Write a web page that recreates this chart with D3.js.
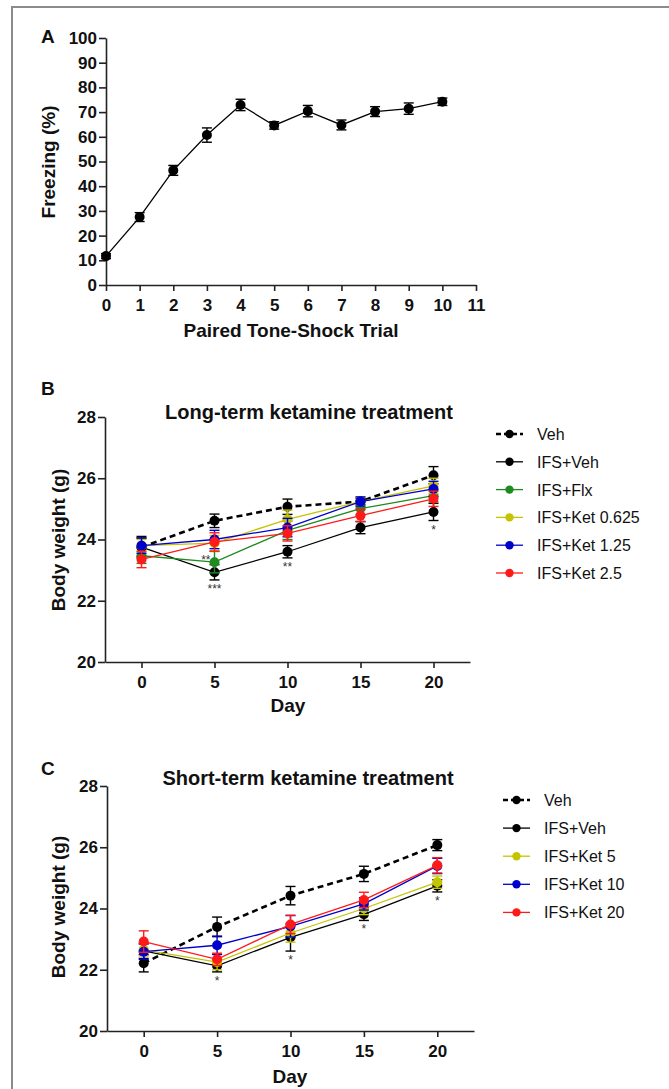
<!DOCTYPE html>
<html>
<head>
<meta charset="utf-8">
<title>Freezing and body weight</title>
<script src="https://d3js.org/d3.v7.min.js"></script>
<style>
  body { margin: 0; background: #fff; }
  svg { display: block; font-family: "Liberation Sans", Arial, sans-serif; }
  .axis path, .axis line { stroke: #222; stroke-width: 1.6; }
  .axis text { font-size: 17px; font-weight: bold; fill: #111; font-family: "Liberation Sans", Arial, sans-serif; }
  .axis-title { font-size: 19px; font-weight: bold; fill: #111; }
  .panel-title { font-size: 20px; font-weight: bold; fill: #111; }
  .panel-letter { font-size: 19px; font-weight: bold; fill: #111; }
  .legend text { font-size: 16px; fill: #111; }
  .star { font-size: 12px; fill: #333; }
</style>
</head>
<body>
<svg width="669" height="1089"></svg>

<script>

// panel A : freezing over trials
const trials = [0, 1, 2, 3, 4, 5, 6, 7, 8, 9, 10];
const trialTicks = [0, 1, 2, 3, 4, 5, 6, 7, 8, 9, 10, 11];
const freezing = [11.7, 27.5, 46.4, 60.7, 72.9, 64.6, 70.4, 64.8, 70.2, 71.4, 74.2];
const freezingSem = [1.0, 1.8, 2.0, 2.9, 2.3, 1.5, 2.3, 2.0, 2.0, 2.3, 1.5];
const freezingTicks = [0, 10, 20, 30, 40, 50, 60, 70, 80, 90, 100];

// panels B and C : body weight
const days = [0, 5, 10, 15, 20];
const weightTicks = [20, 22, 24, 26, 28];

const longGroups = ['Veh', 'IFS+Veh', 'IFS+Flx', 'IFS+Ket 0.625', 'IFS+Ket 1.25', 'IFS+Ket 2.5'];
const longColors = ['#000000', '#000000', '#1f8a1f', '#c4c400', '#0000cc', '#ff1a1a'];
const longVeh     = [23.75, 24.61, 25.07, 25.24, 26.10];
const longIfsVeh  = [23.75, 22.93, 23.60, 24.39, 24.90];
const longFlx     = [23.47, 23.26, 24.30, 25.01, 25.43];
const longKet0625 = [23.80, 23.88, 24.66, 25.24, 25.75];
const longKet125  = [23.80, 24.00, 24.39, 25.24, 25.65];
const longKet25   = [23.35, 23.92, 24.20, 24.78, 25.33];
const longVehSem     = [0.35, 0.22, 0.25, 0.10, 0.28];
const longIfsVehSem  = [0.30, 0.25, 0.20, 0.20, 0.28];
const longFlxSem     = [0.25, 0.35, 0.30, 0.20, 0.20];
const longKet0625Sem = [0.20, 0.25, 0.30, 0.15, 0.25];
const longKet125Sem  = [0.25, 0.30, 0.30, 0.15, 0.25];
const longKet25Sem   = [0.27, 0.30, 0.25, 0.20, 0.25];
const longStars = [
  {day: 5, label: '***', group: 1, side: 'below'},
  {day: 5, label: '**', group: 2, side: 'left'},
  {day: 10, label: '**', group: 1, side: 'below'},
  {day: 20, label: '*', group: 1, side: 'below'}
];

const shortGroups = ['Veh', 'IFS+Veh', 'IFS+Ket 5', 'IFS+Ket 10', 'IFS+Ket 20'];
const shortColors = ['#000000', '#000000', '#c4c400', '#0000cc', '#ff1a1a'];
const shortVeh    = [22.21, 23.40, 24.42, 25.13, 26.07];
const shortIfsVeh = [22.62, 22.13, 23.06, 23.81, 24.74];
const shortKet5   = [22.65, 22.25, 23.20, 24.00, 24.86];
const shortKet10  = [22.59, 22.80, 23.42, 24.15, 25.39];
const shortKet20  = [22.92, 22.34, 23.48, 24.28, 25.41];
const shortVehSem    = [0.28, 0.32, 0.30, 0.25, 0.18];
const shortIfsVehSem = [0.25, 0.20, 0.45, 0.20, 0.20];
const shortKet5Sem   = [0.20, 0.25, 0.30, 0.20, 0.20];
const shortKet10Sem  = [0.25, 0.30, 0.35, 0.20, 0.25];
const shortKet20Sem  = [0.35, 0.20, 0.30, 0.25, 0.25];
const shortStars = [
  {day: 5, label: '*', group: 1, side: 'below'},
  {day: 10, label: '*', group: 1, side: 'below'},
  {day: 15, label: '*', group: 1, side: 'below'},
  {day: 20, label: '*', group: 1, side: 'below'}
];

const toSeries = (names, colors, means, sems) =>
  names.map((name, i) => ({
    name,
    color: colors[i],
    dashed: name === 'Veh',
    points: means[i].map((m, j) => ({ i: j, mean: m, sem: sems[i][j] }))
  }));

// one panel : axes, lines, error bars, markers
const linePanel = (selection, props) => {
  const { x, y, xs, series, xTicks, yTicks, xTitle, yTitle, title, letter, stars } = props;
  const g = selection.append('g');

  const x0 = x.range()[0];
  const y0 = y.range()[0];

  g.append('g')
    .attr('class', 'axis')
    .attr('transform', `translate(0,${y0})`)
    .call(d3.axisBottom(x).tickValues(xTicks).tickSize(6).tickPadding(8).tickSizeOuter(0));

  g.append('g')
    .attr('class', 'axis')
    .attr('transform', `translate(${x0},0)`)
    .call(d3.axisLeft(y).tickValues(yTicks).tickSize(7).tickPadding(2).tickSizeOuter(0));

  g.append('text')
    .attr('class', 'axis-title')
    .attr('text-anchor', 'middle')
    .attr('x', xTitle.x).attr('y', xTitle.y)
    .text(xTitle.text);

  g.append('text')
    .attr('class', 'axis-title')
    .attr('text-anchor', 'middle')
    .attr('transform', `translate(${yTitle.x},${yTitle.y}) rotate(-90)`)
    .text(yTitle.text);

  if (title) {
    g.append('text')
      .attr('class', 'panel-title')
      .attr('text-anchor', 'middle')
      .attr('x', title.x).attr('y', title.y)
      .text(title.text);
  }

  g.append('text')
    .attr('class', 'panel-letter')
    .attr('x', 41).attr('y', letter.y)
    .text(letter.text);

  const line = d3.line()
    .x(d => x(xs[d.i]))
    .y(d => y(d.mean));

  const sg = g.selectAll('.series').data(series).join('g').attr('class', 'series');

  sg.append('path')
    .attr('d', d => line(d.points))
    .attr('fill', 'none')
    .attr('stroke', d => d.color)
    .attr('stroke-width', d => d.dashed ? 2.6 : 1.3)
    .attr('stroke-dasharray', d => d.dashed ? '6,4' : null);

  sg.each(function(s) {
    const eg = d3.select(this).selectAll('.err').data(s.points).join('g').attr('class', 'err')
      .attr('stroke', s.color).attr('stroke-width', 1.4);
    eg.append('line')
      .attr('x1', d => x(xs[d.i])).attr('x2', d => x(xs[d.i]))
      .attr('y1', d => y(d.mean - d.sem)).attr('y2', d => y(d.mean + d.sem));
    eg.append('line')
      .attr('x1', d => x(xs[d.i]) - 5).attr('x2', d => x(xs[d.i]) + 5)
      .attr('y1', d => y(d.mean + d.sem)).attr('y2', d => y(d.mean + d.sem));
    eg.append('line')
      .attr('x1', d => x(xs[d.i]) - 5).attr('x2', d => x(xs[d.i]) + 5)
      .attr('y1', d => y(d.mean - d.sem)).attr('y2', d => y(d.mean - d.sem));

    d3.select(this).selectAll('circle').data(s.points).join('circle')
      .attr('cx', d => x(xs[d.i]))
      .attr('cy', d => y(d.mean))
      .attr('r', 5)
      .attr('fill', s.color);
  });

  if (stars) {
    g.selectAll('.star').data(stars).join('text')
      .attr('class', 'star')
      .attr('text-anchor', d => d.side === 'left' ? 'end' : 'middle')
      .attr('x', d => {
        const px = x(d.day);
        return d.side === 'left' ? px - 4 : px;
      })
      .attr('y', d => {
        const p = series[d.group].points[xs.indexOf(d.day)];
        return d.side === 'left' ? y(p.mean) + 2 : y(p.mean - p.sem) + 13;
      })
      .text(d => d.label);
  }
};

const legend = (selection, props) => {
  const { series, x, y, step } = props;
  const lg = selection.append('g').attr('class', 'legend');
  const item = lg.selectAll('g').data(series).join('g')
    .attr('transform', (d, i) => `translate(${x},${y + i * step})`);
  item.append('line')
    .attr('x1', 0).attr('x2', 27)
    .attr('stroke', d => d.color)
    .attr('stroke-width', d => d.dashed ? 2.6 : 1.3)
    .attr('stroke-dasharray', d => d.dashed ? '5,3' : null);
  item.append('circle')
    .attr('cx', 13.5).attr('r', 4.2)
    .attr('fill', d => d.color);
  item.append('text')
    .attr('x', 41).attr('y', 6)
    .text(d => d.name);
};

// main body

const svg = d3.select('svg');

svg.append('path')
  .attr('d', 'M669,7H12V1089')
  .attr('fill', 'none')
  .attr('stroke', '#8c8c8c')
  .attr('stroke-width', 2);

// A
svg.call(linePanel, {
  x: d3.scaleLinear().domain([0, 11]).range([106, 476]),
  y: d3.scaleLinear().domain([0, 100]).range([285, 38]),
  xs: trials,
  series: [{ name: 'Freezing', color: '#000', dashed: false,
             points: freezing.map((m, j) => ({ i: j, mean: m, sem: freezingSem[j] })) }],
  xTicks: trialTicks,
  yTicks: freezingTicks,
  xTitle: { x: 291, y: 337, text: 'Paired Tone-Shock Trial' },
  yTitle: { x: 55, y: 162, text: 'Freezing (%)' },
  letter: { y: 43, text: 'A' }
});

// B
const longSeries = toSeries(longGroups, longColors,
  [longVeh, longIfsVeh, longFlx, longKet0625, longKet125, longKet25],
  [longVehSem, longIfsVehSem, longFlxSem, longKet0625Sem, longKet125Sem, longKet25Sem]);

svg.call(linePanel, {
  x: d3.scaleLinear().domain([-2.5, 22.5]).range([105, 470]),
  y: d3.scaleLinear().domain([20, 28]).range([662, 417]),
  xs: days,
  series: longSeries,
  xTicks: days,
  yTicks: weightTicks,
  xTitle: { x: 288, y: 712, text: 'Day' },
  yTitle: { x: 65, y: 540, text: 'Body weight (g)' },
  title: { x: 309, y: 419, text: 'Long-term ketamine treatment' },
  letter: { y: 395, text: 'B' },
  stars: longStars
});
svg.call(legend, { series: longSeries, x: 496, y: 434, step: 27.8 });

// C
const shortSeries = toSeries(shortGroups, shortColors,
  [shortVeh, shortIfsVeh, shortKet5, shortKet10, shortKet20],
  [shortVehSem, shortIfsVehSem, shortKet5Sem, shortKet10Sem, shortKet20Sem]);

svg.call(linePanel, {
  x: d3.scaleLinear().domain([-2.5, 22.5]).range([107, 474]),
  y: d3.scaleLinear().domain([20, 28]).range([1031, 786]),
  xs: days,
  series: shortSeries,
  xTicks: days,
  yTicks: weightTicks,
  xTitle: { x: 290, y: 1083, text: 'Day' },
  yTitle: { x: 65, y: 907, text: 'Body weight (g)' },
  title: { x: 308, y: 785, text: 'Short-term ketamine treatment' },
  letter: { y: 775, text: 'C' },
  stars: shortStars
});
svg.call(legend, { series: shortSeries, x: 503, y: 800, step: 28.1 });

</script>
</body>
</html>
